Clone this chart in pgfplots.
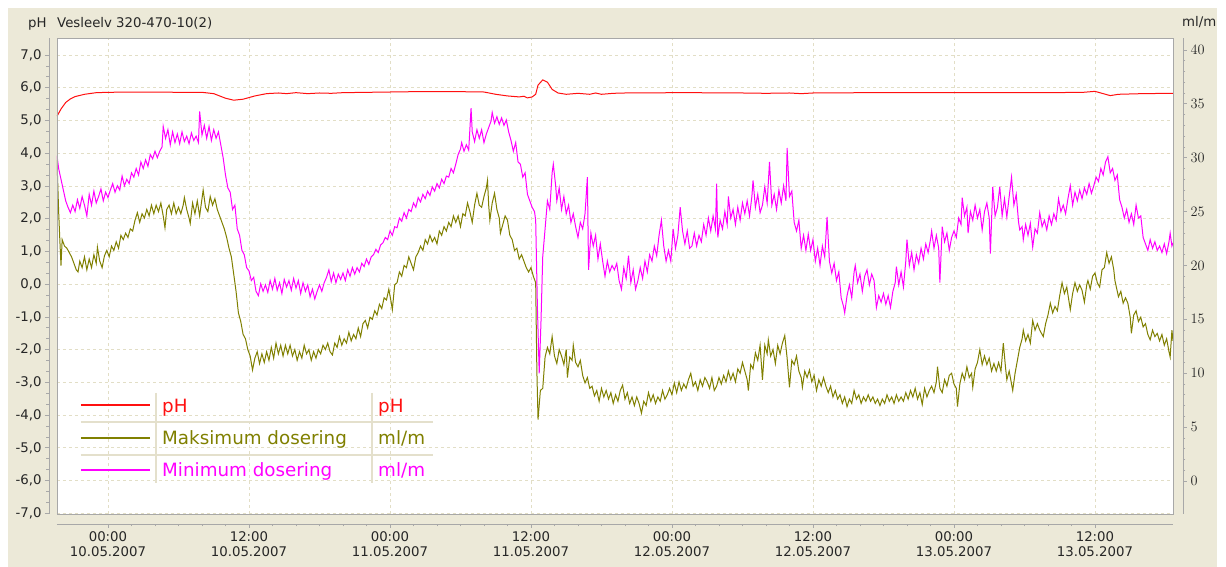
\documentclass[border=0pt]{standalone}
\usepackage{fontspec}
\setmainfont{DejaVu Sans}
\usepackage{pgfplots}
\pgfplotsset{compat=1.18}
\definecolor{panel}{HTML}{ECE9D8}
\definecolor{gridc}{HTML}{E2DEC6}
\definecolor{rulec}{HTML}{A8A8A8}
\definecolor{phred}{HTML}{FF1010}
\definecolor{maxol}{HTML}{808000}
\definecolor{minmag}{HTML}{FF00FF}
\definecolor{sepc}{HTML}{E4E0CC}
\newcommand\tickfont{\fontsize{13.3bp}{15.5bp}\selectfont}
\newcommand\legfont{\fontsize{18.3bp}{20bp}\selectfont}

\pgfplotsset{
  base/.style={
    scale only axis, width=1116bp, height=476bp,
    at={(0,0)}, anchor=south west,
    xmin=-4.34, xmax=90.64,
    tick align=outside,
    major tick length=4bp, minor tick length=2.5bp,
    every tick/.style={rulec, line width=0.8bp},
    axis line style={rulec, -, line width=0.8bp},
    tick label style={font=\tickfont, text=black!85},
  },
}

% Minimum dosering (ml/m), hours from 00:00 10.05.2007
\pgfplotstableread{
h v
-4.34 30.2
-4.2 29.0
-4.0 28.0
-3.8 27.0
-3.6 26.0
-3.4 25.4
-3.2 24.9
-3.0 25.6
-2.8 25.0
-2.6 26.1
-2.4 25.3
-2.2 26.4
-2.0 25.6
-1.8 24.6
-1.6 26.6
-1.4 25.6
-1.2 26.9
-1.0 25.8
-0.8 26.4
-0.6 27.1
-0.4 26.0
-0.2 26.8
0 26.3
0.2 27.0
0.4 27.6
0.6 26.8
0.8 27.4
1.0 27.0
1.2 28.3
1.4 27.4
1.6 28.0
1.8 27.6
2.0 28.6
2.2 28.2
2.4 29.0
2.6 28.4
2.8 29.6
3.0 29.0
3.2 29.8
3.4 29.2
3.6 30.3
3.8 29.9
4.0 30.6
4.2 30.0
4.4 30.6
4.6 31.0
4.7 32.9
4.9 31.8
5.1 32.6
5.3 31.2
5.5 32.4
5.7 31.4
5.9 32.2
6.1 31.3
6.3 32.4
6.5 31.5
6.7 32.0
6.9 31.3
7.1 32.3
7.3 31.6
7.5 32.0
7.7 31.4
7.8 34.3
8.0 32.1
8.2 33.0
8.4 31.8
8.6 32.9
8.8 31.6
9.0 32.6
9.2 31.8
9.4 32.4
9.6 31.2
9.8 30.0
10.0 28.4
10.2 27.2
10.4 26.8
10.6 25.2
10.8 25.6
11.0 23.4
11.2 22.8
11.4 21.4
11.6 21.0
11.8 19.8
12.0 19.5
12.2 18.6
12.4 18.9
12.6 17.6
12.8 17.2
13.0 18.3
13.2 17.6
13.4 18.2
13.6 17.5
13.8 18.6
14.0 17.8
14.2 18.8
14.4 17.7
14.6 18.4
14.8 17.4
15.0 18.7
15.2 18.0
15.4 18.6
15.6 17.7
15.8 18.8
16.0 17.9
16.2 18.6
16.4 17.4
16.6 18.4
16.8 17.6
17.0 18.2
17.2 17.1
17.4 17.8
17.6 16.9
17.8 17.6
18.0 18.2
18.2 17.6
18.4 18.4
18.6 18.9
18.8 19.6
19.0 18.5
19.2 19.3
19.4 18.4
19.6 19.2
19.8 18.7
20.0 19.3
20.2 18.6
20.4 19.6
20.6 19.0
20.8 19.8
21.0 19.2
21.2 19.8
21.4 19.4
21.6 20.2
21.8 19.9
22.0 20.6
22.2 20.1
22.4 20.8
22.6 21.0
22.8 21.5
23.0 21.2
23.2 21.9
23.4 22.1
23.6 22.6
23.8 22.4
24.0 23.2
24.2 22.8
24.4 23.6
24.6 23.5
24.8 24.4
25.0 24.1
25.2 24.9
25.4 24.4
25.6 25.2
25.8 25.0
26.0 25.8
26.2 25.4
26.4 26.3
26.6 25.9
26.8 26.6
27.0 26.2
27.2 26.9
27.4 26.5
27.6 27.3
27.8 26.9
28.0 27.6
28.2 27.2
28.4 28.0
28.6 27.6
28.8 28.3
29.0 28.2
29.2 29.0
29.4 28.6
29.6 29.4
29.8 30.3
30.0 30.8
30.1 31.4
30.3 30.6
30.5 31.2
30.7 30.7
30.9 34.6
31.0 32.4
31.2 31.5
31.4 32.6
31.6 31.8
31.8 32.6
32.0 31.4
32.2 32.2
32.4 32.8
32.6 33.4
32.7 34.2
32.9 33.2
33.1 33.8
33.3 33.1
33.5 33.7
33.7 33.0
33.9 33.5
34.1 32.4
34.3 31.6
34.5 30.6
34.7 31.4
34.9 29.6
35.1 29.4
35.3 28.2
35.5 28.6
35.7 26.6
35.9 26.0
36.1 25.4
36.3 25.0
36.4 24.2
36.55 16.0
36.7 10.0
36.85 14.7
37.0 20.8
37.2 23.4
37.4 26.0
37.6 25.2
37.8 28.6
37.9 29.4
38.1 27.4
38.2 26.0
38.4 27.2
38.6 25.2
38.8 26.4
39.0 24.8
39.2 25.6
39.4 24.0
39.6 24.8
39.8 23.6
40.0 22.6
40.2 24.0
40.4 23.4
40.6 24.8
40.8 28.2
40.9 19.6
41.1 23.0
41.3 21.8
41.5 22.8
41.7 20.6
41.9 22.0
42.1 20.4
42.3 19.0
42.5 20.4
42.7 19.4
42.9 20.0
43.1 19.6
43.3 20.2
43.5 18.6
43.7 17.8
43.9 19.8
44.1 18.8
44.3 20.9
44.5 18.4
44.7 19.6
44.9 17.8
45.1 18.6
45.3 19.8
45.5 18.8
45.7 20.4
45.9 19.4
46.1 21.0
46.3 20.4
46.5 21.8
46.7 20.9
46.9 22.8
47.1 24.2
47.3 21.8
47.5 20.4
47.7 21.4
47.9 20.4
48.1 23.4
48.3 21.6
48.5 22.8
48.7 25.4
48.9 23.2
49.1 22.0
49.3 23.2
49.5 21.6
49.7 21.8
49.9 23.0
50.1 21.8
50.3 22.8
50.5 22.2
50.7 23.8
50.9 22.8
51.1 24.4
51.3 23.2
51.5 24.6
51.7 23.4
51.8 27.6
51.9 22.6
52.1 24.2
52.3 23.4
52.5 25.0
52.7 23.8
52.8 26.4
53.0 24.4
53.2 25.2
53.4 23.8
53.6 25.4
53.8 24.2
54.0 25.8
54.2 24.8
54.4 26.0
54.6 24.6
54.8 26.4
54.9 27.9
55.1 25.4
55.3 26.6
55.5 24.9
55.7 25.6
55.9 27.3
56.1 25.8
56.3 29.6
56.5 25.6
56.7 26.6
56.9 25.2
57.1 27.0
57.3 25.8
57.5 27.4
57.7 26.0
57.8 30.9
58.0 26.4
58.2 26.9
58.4 24.0
58.6 23.2
58.8 24.2
59.0 21.6
59.2 22.8
59.4 21.4
59.6 22.9
59.8 21.4
60.0 22.4
60.2 20.4
60.4 21.6
60.6 20.0
60.8 21.8
61.0 20.8
61.2 24.5
61.4 20.4
61.6 19.3
61.8 20.2
62.0 18.6
62.2 19.4
62.4 17.0
62.6 16.2
62.7 15.6
62.9 17.2
63.1 18.2
63.3 17.0
63.5 19.4
63.6 20.0
63.8 18.4
64.0 19.2
64.2 17.6
64.4 19.0
64.6 19.6
64.8 18.2
65.0 19.2
65.2 18.6
65.4 16.1
65.6 17.2
65.8 16.6
66.0 17.4
66.2 16.4
66.4 17.2
66.6 16.1
66.8 17.6
67.0 18.4
67.1 19.9
67.3 18.2
67.5 19.4
67.7 18.0
67.9 20.4
68.0 22.4
68.2 20.0
68.4 21.2
68.6 19.6
68.8 21.0
69.0 20.2
69.2 21.6
69.4 20.6
69.6 22.0
69.8 21.2
70.0 22.4
70.1 23.2
70.3 21.6
70.5 22.8
70.7 21.6
70.8 18.4
71.0 23.6
71.2 22.2
71.4 23.0
71.6 21.4
71.8 22.6
72.0 23.2
72.2 22.6
72.4 24.4
72.6 23.8
72.7 26.3
72.9 24.6
73.1 25.4
73.2 23.0
73.4 25.0
73.6 24.2
73.8 25.6
74.0 24.4
74.2 25.2
74.4 23.3
74.6 25.0
74.8 25.8
75.0 24.4
75.1 21.1
75.3 27.3
75.5 24.6
75.7 25.4
75.9 27.3
76.1 24.6
76.3 26.2
76.5 24.5
76.7 26.4
76.9 28.2
77.1 25.6
77.3 26.6
77.5 24.0
77.6 23.3
77.8 23.6
77.9 22.4
78.1 23.8
78.3 22.8
78.5 23.9
78.7 21.7
78.9 23.4
79.1 23.0
79.3 24.9
79.5 23.6
79.7 24.2
79.9 23.3
80.1 24.6
80.3 23.8
80.5 24.8
80.7 24.2
80.9 26.2
81.1 25.0
81.3 25.6
81.5 24.8
81.7 26.2
81.9 27.4
82.1 25.6
82.3 26.8
82.5 26.0
82.7 27.0
82.9 26.2
83.1 27.2
83.3 26.6
83.5 27.6
83.7 26.7
83.9 27.4
84.1 28.2
84.3 27.8
84.5 29.0
84.7 28.4
84.9 29.6
85.1 30.1
85.3 28.6
85.5 29.0
85.7 27.9
85.9 28.4
86.1 26.1
86.3 25.4
86.5 24.4
86.7 25.2
86.9 24.0
87.1 24.8
87.3 23.8
87.5 25.6
87.7 24.4
87.9 24.6
88.1 22.6
88.3 22.0
88.5 21.4
88.7 22.4
88.9 21.6
89.1 22.2
89.3 21.4
89.5 21.8
89.7 21.2
89.9 22.0
90.1 21.1
90.3 22.2
90.4 23.0
90.55 21.8
90.64 22.1
}\mindos

% Maksimum dosering (ml/m)
\pgfplotstableread{
h v
-4.34 29.8
-4.2 25.0
-4.1 22.4
-4.0 20.0
-3.9 22.4
-3.7 21.8
-3.5 21.6
-3.3 21.2
-3.1 20.8
-2.9 20.2
-2.7 19.6
-2.55 19.4
-2.4 20.4
-2.2 19.8
-2.0 20.8
-1.8 19.6
-1.6 20.6
-1.4 19.8
-1.2 21.0
-1.0 20.2
-0.9 21.7
-0.7 20.4
-0.5 19.8
-0.3 20.9
-0.1 21.4
0.1 20.8
0.3 21.8
0.5 21.4
0.7 22.2
0.9 21.6
1.1 22.8
1.3 22.4
1.5 23.0
1.7 22.6
1.9 23.4
2.1 23.2
2.3 24.2
2.5 24.9
2.7 24.0
2.9 24.8
3.1 24.4
3.3 25.2
3.5 24.6
3.7 25.6
3.9 24.8
4.1 25.6
4.3 25.0
4.5 25.8
4.7 24.6
4.85 23.5
5.0 25.2
5.2 25.6
5.4 24.8
5.6 25.8
5.8 24.8
6.0 25.4
6.2 24.8
6.4 25.6
6.5 26.3
6.7 25.2
6.9 24.4
7.0 23.9
7.2 25.8
7.4 24.8
7.6 26.0
7.8 24.6
8.0 26.2
8.1 27.0
8.3 25.4
8.5 25.0
8.7 26.4
8.9 25.6
9.1 26.2
9.3 25.2
9.5 24.6
9.7 24.0
9.9 23.4
10.1 22.6
10.3 21.6
10.5 20.8
10.7 19.2
10.9 17.6
11.1 15.6
11.3 14.8
11.5 13.6
11.7 13.2
11.9 12.2
12.1 11.6
12.3 10.3
12.5 11.4
12.7 12.0
12.9 10.9
13.1 11.8
13.3 11.0
13.5 12.0
13.7 11.2
13.9 12.4
14.1 11.4
14.3 12.8
14.5 11.8
14.7 12.6
14.9 11.6
15.1 12.6
15.3 11.8
15.5 12.6
15.7 11.6
15.9 12.2
16.1 11.2
16.3 12.0
16.5 11.4
16.7 12.6
16.9 11.8
17.1 12.2
17.3 11.2
17.5 12.0
17.7 11.4
17.9 12.2
18.1 11.8
18.3 12.6
18.5 12.2
18.7 12.8
18.9 12.0
19.1 11.7
19.3 12.8
19.5 12.4
19.7 13.4
19.9 12.6
20.1 13.2
20.3 12.8
20.5 13.8
20.7 13.0
20.9 13.6
21.1 13.2
21.3 14.2
21.5 13.4
21.7 14.6
21.9 14.9
22.1 14.2
22.3 15.2
22.5 15.0
22.7 15.8
22.9 15.4
23.1 16.4
23.3 16.0
23.5 17.0
23.7 16.8
23.9 17.8
24.1 16.6
24.2 15.9
24.4 18.2
24.6 18.4
24.8 19.4
25.0 19.0
25.2 20.0
25.4 19.8
25.6 20.8
25.8 20.2
26.0 19.6
26.2 20.8
26.4 21.2
26.6 21.8
26.8 21.4
27.0 22.4
27.2 22.0
27.4 22.8
27.6 22.2
27.8 22.6
28.0 22.0
28.2 23.2
28.4 22.8
28.6 23.6
28.8 23.2
29.0 24.0
29.2 23.6
29.4 24.6
29.6 24.0
29.8 24.6
30.0 23.6
30.2 24.8
30.4 24.6
30.6 25.8
30.8 25.0
31.0 24.0
31.2 25.6
31.4 26.7
31.6 25.6
31.8 25.4
32.0 26.4
32.2 27.2
32.3 27.9
32.4 25.6
32.5 24.2
32.7 25.8
32.9 26.7
33.1 25.2
33.3 24.4
33.4 23.0
33.6 23.8
33.8 24.6
34.0 24.2
34.2 22.8
34.4 22.4
34.6 21.4
34.8 21.6
35.0 20.6
35.2 21.0
35.4 20.4
35.6 19.8
35.8 19.4
36.0 19.8
36.2 19.0
36.4 18.4
36.5 10.3
36.6 5.7
36.8 8.4
37.0 8.6
37.2 11.5
37.4 12.4
37.6 11.8
37.8 13.4
38.0 11.6
38.2 10.9
38.4 12.2
38.6 11.6
38.8 10.8
39.0 12.2
39.1 9.6
39.3 11.5
39.5 11.2
39.6 12.6
39.8 11.0
40.0 10.6
40.2 11.2
40.4 9.8
40.6 9.1
40.8 9.6
41.0 8.6
41.2 8.8
41.4 7.9
41.6 8.4
41.8 7.4
42.0 8.6
42.2 7.8
42.4 8.4
42.6 7.6
42.8 8.2
43.0 7.2
43.2 8.0
43.4 7.4
43.6 8.4
43.8 8.9
44.0 7.6
44.2 8.2
44.4 7.2
44.6 7.8
44.8 7.0
45.0 7.8
45.2 7.2
45.4 6.3
45.6 7.4
45.8 7.0
46.0 8.2
46.2 7.4
46.4 8.0
46.6 7.2
46.8 7.8
47.0 7.4
47.2 8.4
47.4 7.6
47.6 8.0
47.8 8.6
48.0 8.0
48.2 9.1
48.4 8.2
48.6 9.2
48.8 8.4
49.0 9.0
49.2 8.6
49.4 9.4
49.6 10.0
49.8 8.8
50.0 9.2
50.2 8.4
50.4 9.4
50.6 8.8
50.8 9.6
51.0 9.2
51.2 8.6
51.4 9.6
51.6 8.4
51.8 8.8
52.0 9.6
52.2 9.0
52.4 9.8
52.6 9.2
52.8 10.2
53.0 9.4
53.2 10.0
53.4 9.2
53.6 10.4
53.8 10.0
54.0 11.0
54.2 10.2
54.4 9.4
54.5 8.4
54.7 10.8
54.9 10.4
55.1 11.9
55.3 11.2
55.5 12.6
55.7 9.4
55.9 12.6
56.1 11.8
56.2 13.1
56.4 11.6
56.6 12.2
56.8 10.9
57.0 12.6
57.2 11.8
57.4 12.8
57.6 13.5
57.8 11.4
58.0 8.7
58.2 11.2
58.4 10.8
58.6 11.6
58.8 10.2
59.0 9.6
59.1 8.7
59.3 10.2
59.5 9.6
59.7 10.3
59.9 9.2
60.1 9.8
60.3 8.4
60.5 9.4
60.7 8.8
60.9 9.6
61.1 8.8
61.3 8.2
61.5 8.8
61.7 7.8
61.9 8.4
62.1 7.6
62.3 8.0
62.5 7.2
62.7 7.8
62.9 6.9
63.1 7.6
63.3 7.2
63.5 8.4
63.7 7.6
63.9 8.0
64.1 7.2
64.3 7.8
64.5 7.4
64.7 8.0
64.9 7.4
65.1 7.8
65.3 7.2
65.5 7.6
65.7 7.0
65.9 7.6
66.1 7.2
66.3 8.0
66.5 7.4
66.7 7.8
66.9 7.2
67.1 8.0
67.3 7.4
67.5 7.8
67.7 7.4
67.9 8.2
68.1 7.6
68.3 8.4
68.5 7.8
68.7 8.6
68.9 7.6
69.1 8.2
69.3 7.1
69.5 8.6
69.7 7.8
69.9 8.4
70.1 8.8
70.3 8.2
70.5 9.2
70.6 10.6
70.8 8.6
71.0 8.2
71.2 9.4
71.4 8.8
71.6 9.8
71.8 10.0
72.0 9.0
72.2 8.6
72.3 6.9
72.5 9.0
72.7 10.0
72.9 9.4
73.1 10.6
73.3 9.6
73.5 10.0
73.6 8.7
73.8 10.4
74.0 11.0
74.2 12.2
74.4 10.8
74.6 11.6
74.8 10.8
75.0 11.4
75.2 10.2
75.4 10.9
75.6 10.2
75.8 11.0
76.0 10.2
76.2 12.8
76.4 10.4
76.5 9.4
76.7 10.2
76.9 9.0
77.0 8.4
77.2 10.0
77.4 11.2
77.6 12.4
77.8 13.2
77.9 14.0
78.1 13.0
78.3 13.6
78.5 12.8
78.7 14.9
78.9 14.0
79.1 14.6
79.3 14.0
79.5 13.6
79.6 13.4
79.8 14.6
80.0 15.4
80.2 16.5
80.4 15.6
80.6 16.2
80.8 15.8
81.0 17.2
81.2 18.4
81.4 17.4
81.6 18.0
81.8 16.6
81.9 15.9
82.1 17.4
82.3 18.4
82.5 17.6
82.7 18.2
82.9 17.7
83.1 16.6
83.3 18.2
83.4 18.6
83.6 17.8
83.8 19.0
84.0 19.3
84.2 18.4
84.4 18.0
84.6 19.6
84.8 19.8
85.0 21.2
85.2 20.2
85.4 20.8
85.6 19.6
85.7 18.6
85.9 17.6
86.0 17.1
86.2 17.6
86.4 16.5
86.6 17.0
86.8 16.5
87.0 15.2
87.1 13.7
87.3 15.4
87.5 15.8
87.7 14.8
87.9 15.2
88.1 14.3
88.3 14.6
88.5 13.6
88.7 13.1
88.9 14.0
89.1 13.4
89.3 13.7
89.5 13.0
89.7 13.6
89.9 12.6
90.1 13.2
90.3 12.0
90.4 11.5
90.55 14.0
90.64 13.0
}\maxdos

\begin{document}
\begin{tikzpicture}[x=1bp, y=1bp]
% background
\fill[white] (-57,-53) rectangle (1169,514);
\fill[panel] (-49,-53) rectangle (1160,506);
\fill[white] (0,0) rectangle (1116,476);

% pH axis (left)
\begin{axis}[base,
  ymin=-7.02, ymax=7.52,
  axis x line*=bottom, axis y line*=left,
  axis x line shift=10bp, axis y line shift=8bp,
  xtick={0,12,...,84}, minor x tick num=5,
  xticklabels={{00:00\\10.05.2007},{12:00\\10.05.2007},{00:00\\11.05.2007},{12:00\\11.05.2007},
    {00:00\\12.05.2007},{12:00\\12.05.2007},{00:00\\13.05.2007},{12:00\\13.05.2007}},
  xticklabel style={align=center},
  ytick={-7,...,7}, minor y tick num=2,
  yticklabels={{-7,0},{-6,0},{-5,0},{-4,0},{-3,0},{-2,0},{-1,0},{0,0},{1,0},{2,0},{3,0},{4,0},{5,0},{6,0},{7,0}},
  grid=major,
  major grid style={gridc, dash pattern=on 3bp off 3bp, line width=0.8bp},
]
\addplot[phred, line width=1bp] coordinates {
(-4.34,5.13)(-4.0,5.35)(-3.6,5.55)(-3.2,5.66)(-2.8,5.73)(-2.0,5.80)(-1.0,5.85)(0,5.86)
(2,5.87)(4,5.87)(6,5.86)(8,5.86)(9,5.82)(10,5.68)(10.7,5.62)(11.5,5.65)(12.5,5.75)
(13.5,5.82)(14.5,5.84)(15.2,5.82)(16,5.85)(17,5.82)(18,5.84)(19,5.83)(20,5.85)(22,5.86)
(24,5.87)(26,5.88)(28,5.88)(30,5.88)(32,5.87)(33,5.80)(34,5.75)(35,5.72)(35.4,5.74)
(35.7,5.69)(36.1,5.72)(36.4,5.80)(36.6,6.08)(37.0,6.24)(37.4,6.17)(37.8,5.95)(38.3,5.84)
(39,5.80)(40,5.83)(41,5.80)(41.5,5.84)(42,5.80)(43,5.83)(44,5.84)(46,5.84)(48,5.85)
(50,5.85)(52,5.84)(54,5.84)(56,5.83)(58,5.84)(59,5.82)(60,5.84)(62,5.84)(64,5.85)
(66,5.85)(68,5.85)(72,5.85)(76,5.85)(80,5.85)(83,5.86)(84,5.89)(84.6,5.83)(85.3,5.76)
(86,5.80)(88,5.82)(90.64,5.83)
};
\end{axis}

% ml/m axis (right)
\begin{axis}[base,
  ymin=-3.06, ymax=41.11,
  axis x line=none, axis y line*=right,
  axis y line shift=10bp,
  ytick={0,5,...,40}, minor y tick num=4,
]
\addplot[maxol, line width=1bp] table[x=h, y=v] {\maxdos};
\addplot[minmag, line width=1bp] table[x=h, y=v] {\mindos};
\end{axis}

% frame of plot area
\draw[rulec, line width=0.8bp] (0,0) rectangle (1116,476);

% titles
\node[font=\tickfont, text=black!85, anchor=base west, inner sep=0] at (-29,486.5) {pH};
\node[font=\tickfont, text=black!85, anchor=base west, inner sep=0] at (0,486.5) {Vesleelv 320-470-10(2)};
\node[font=\tickfont, text=black!85, anchor=base west, inner sep=0] at (1125,487.5) {ml/m};

% legend table
\draw[draw=sepc, line width=1.6bp] (24,92) -- (376,92) (24,59) -- (376,59)
  (99,121) -- (99,31) (315,121) -- (315,31);
\draw[draw=phred, line width=1.2bp] (24,109) -- (93,109);
\draw[draw=maxol, line width=1.2bp] (24,76) -- (93,76);
\draw[draw=minmag, line width=1.2bp] (24,44) -- (93,44);
\node[font=\legfont, text=phred, anchor=base west, inner sep=0] at (105,101) {pH};
\node[font=\legfont, text=maxol, anchor=base west, inner sep=0] at (105,69) {Maksimum dosering};
\node[font=\legfont, text=minmag, anchor=base west, inner sep=0] at (105,37) {Minimum dosering};
\node[font=\legfont, text=phred, anchor=base west, inner sep=0] at (321,101) {pH};
\node[font=\legfont, text=maxol, anchor=base west, inner sep=0] at (321,69) {ml/m};
\node[font=\legfont, text=minmag, anchor=base west, inner sep=0] at (321,37) {ml/m};

\pgfresetboundingbox
\path (-57,-53) rectangle (1169,514);
\end{tikzpicture}
\end{document}
